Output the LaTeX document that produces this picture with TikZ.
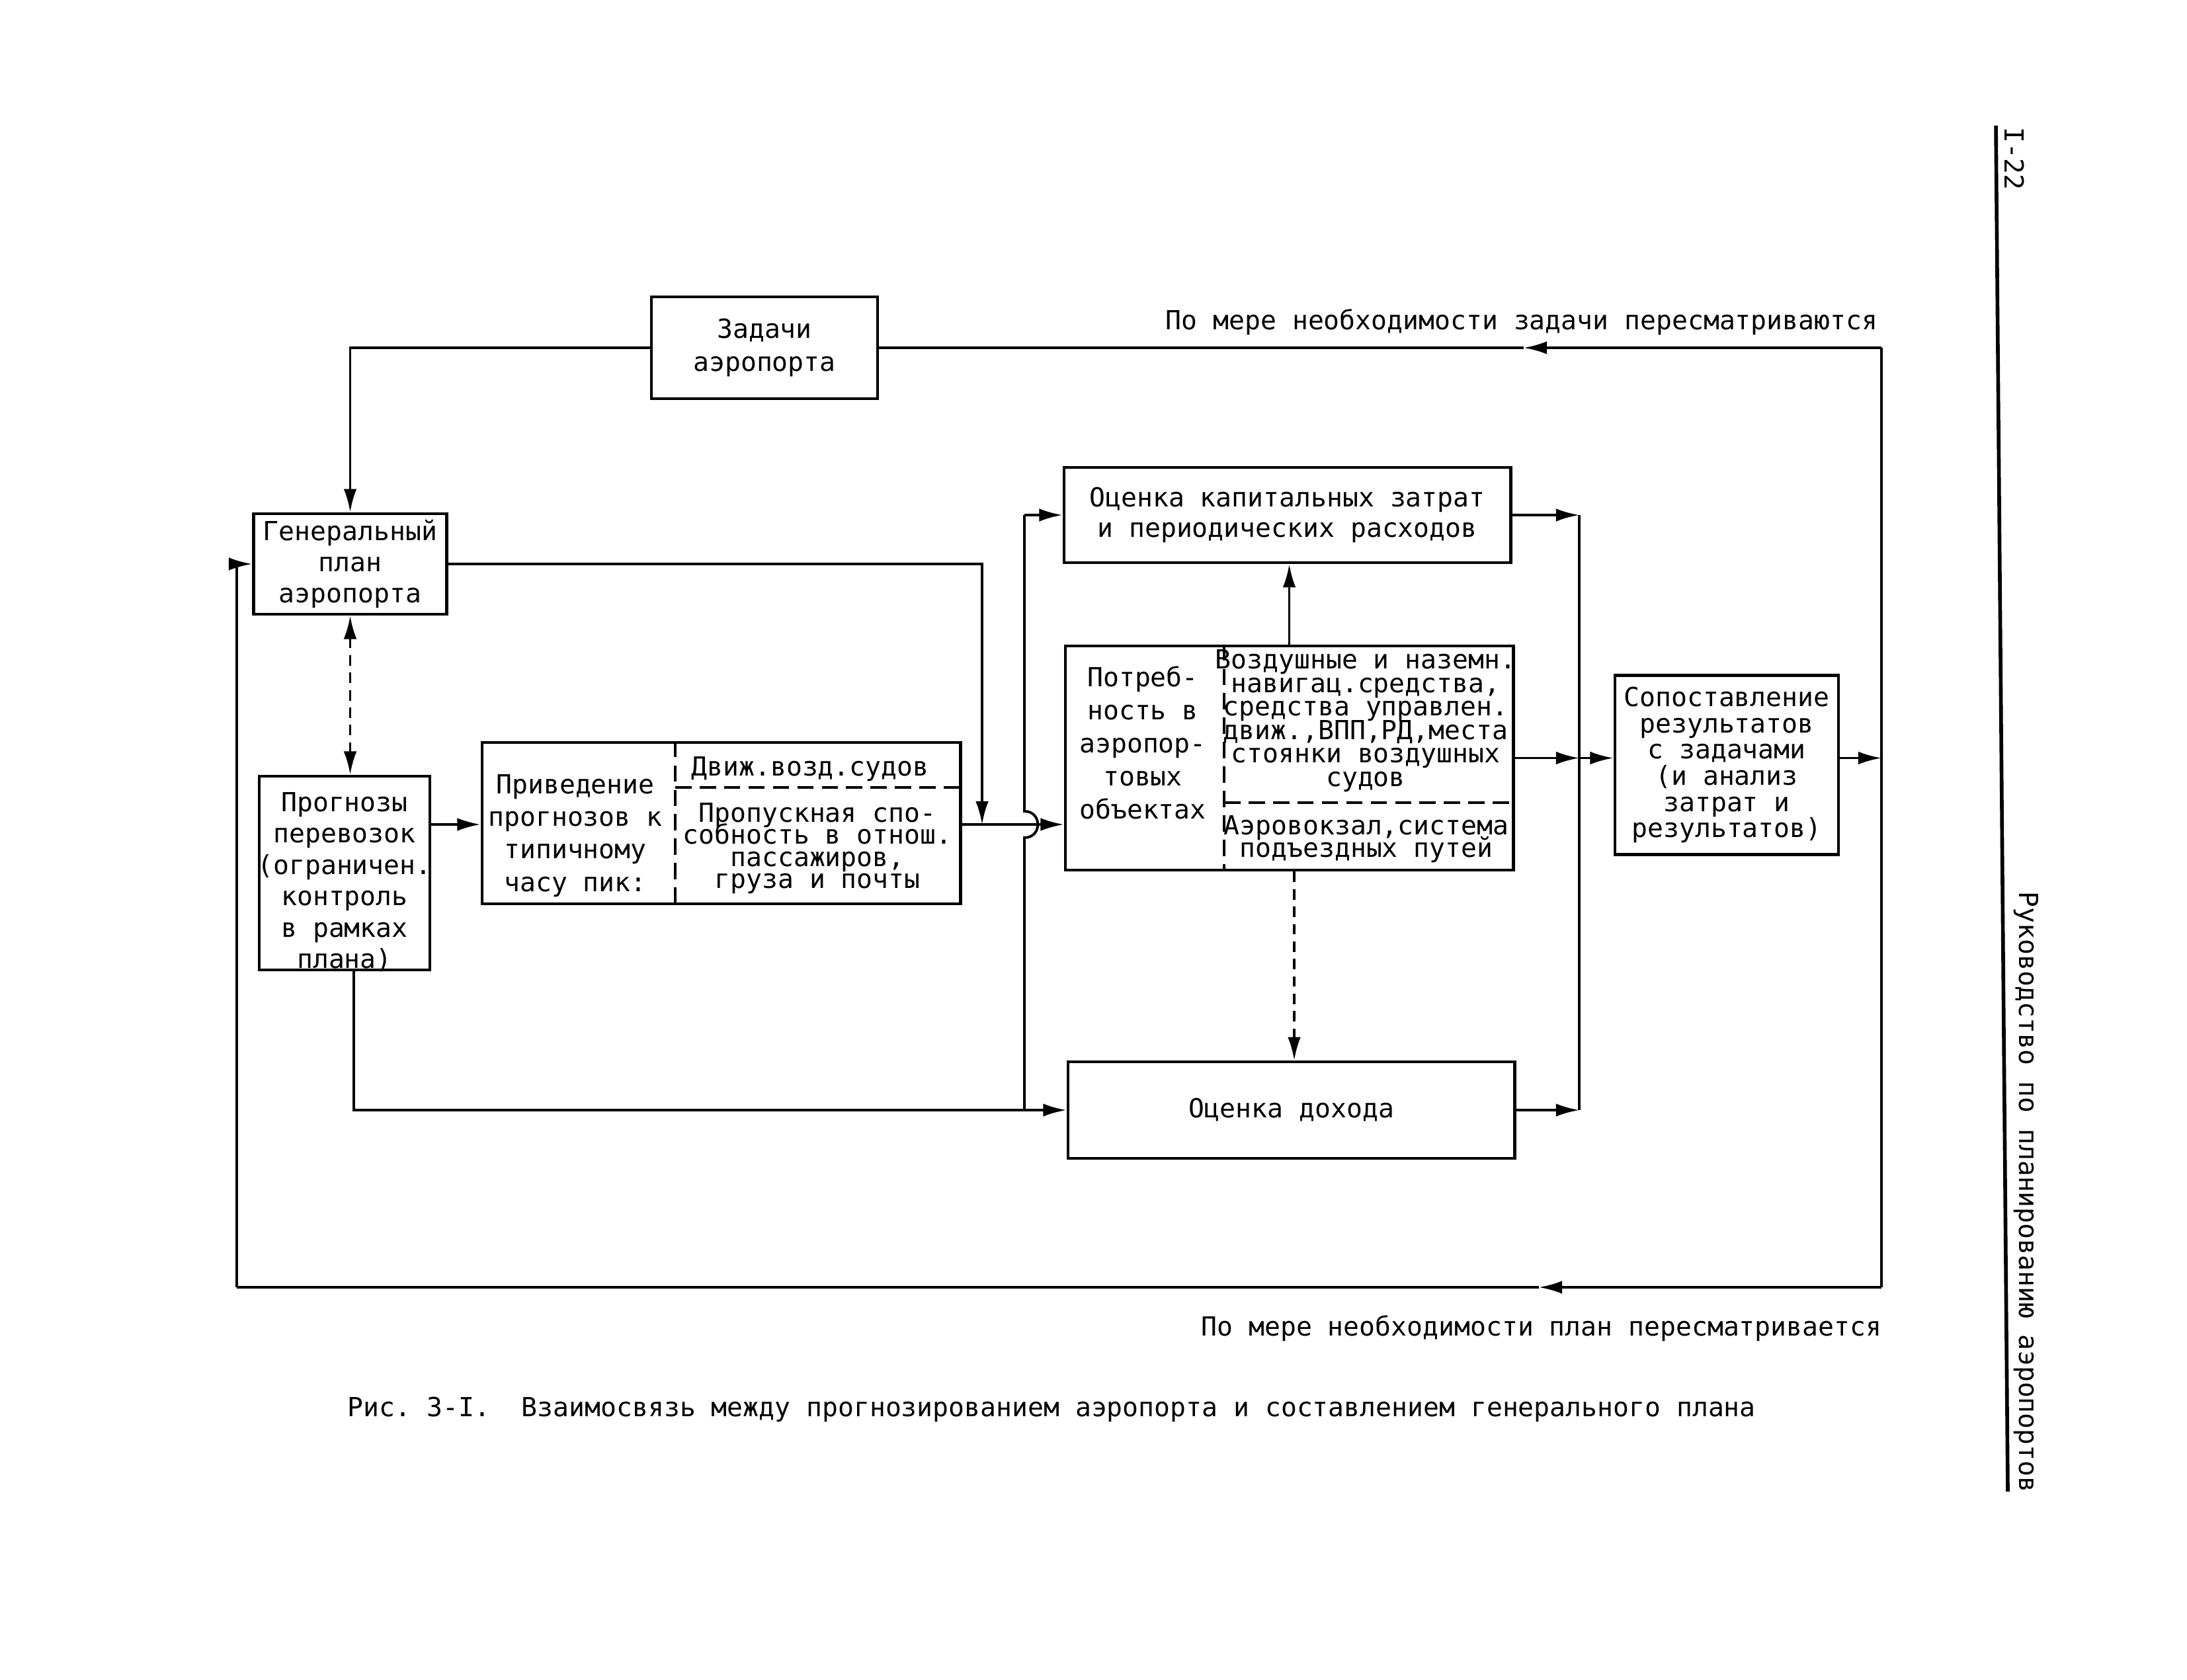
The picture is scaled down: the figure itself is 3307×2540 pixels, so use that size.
\documentclass[tikz,border=0pt]{standalone}
\usepackage{fontspec}
\setmainfont{DejaVu Sans Mono}
\newfontfamily\mono{DejaVu Sans Mono}
\usetikzlibrary{arrows.meta}
\newcommand\myfs[1]{\mono\fontsize{11.3}{#1}\selectfont\lineskiplimit=-20pt\relax}
\frenchspacing
\tikzset{
  box/.style={draw, line width=1.3pt, inner sep=0pt, align=center},
  conn/.style={line width=1.1pt},
  arr/.style={-{Latex[length=10pt,width=5.6pt]}},
  darr/.style={{Latex[length=10pt,width=5.6pt]}-{Latex[length=10pt,width=5.6pt]}},
  dashconn/.style={line width=1.1pt, dash pattern=on 4.5pt off 3pt},
  divider/.style={line width=0.9pt, dash pattern=on 7pt off 3.5pt},
  txt/.style={align=center, inner sep=0pt},
}
\begin{document}
\begin{tikzpicture}[x=0.01cm,y=-0.01cm]
\useasboundingbox (0,0) rectangle (3307,2540);
\fill[white] (0,0) rectangle (3307,2540);

% boxes
\node[box, minimum width=3.42cm, minimum height=1.54cm, font=\myfs{14.2}] (zad) at (1156,526) {Задачи\\аэропорта};
\node[box, minimum width=2.92cm, minimum height=1.52cm, font=\myfs{13.4}] (gen) at (529.5,853) {Генеральный\\план\\аэропорта};
\node[box, minimum width=2.58cm, minimum height=2.93cm] (prog) at (521,1320.5) {};
\node[txt, font=\myfs{13.5}] (progT) at (521,1334) {Прогнозы\\перевозок\\(ограничен.\\контроль\\в рамках\\плана)};
\node[box, minimum width=7.23cm, minimum height=2.44cm] (priv) at (1090.5,1245) {};
\node[txt, font=\myfs{14}] (privL) at (870,1264) {Приведение\\прогнозов к\\типичному\\часу пик:};
\node[txt, font=\myfs{10}] (privR1) at (1225,1163) {Движ.возд.судов};
\node[txt, font=\myfs{9.5}] (privR2) at (1236,1283) {Пропускная спо-\\собность в отнош.\\пассажиров,\\груза и почты};
\node[box, minimum width=6.75cm, minimum height=1.44cm, font=\myfs{13.1}] (kap) at (1946.5,779) {Оценка капитальных затрат\\и периодических расходов};
\node[box, minimum width=6.77cm, minimum height=3.39cm] (pot) at (1949.5,1146.5) {};
\node[txt, font=\myfs{14.2}] (potL) at (1728,1123) {Потреб-\\ность в\\аэропор-\\товых\\объектах};
\node[txt, font=\myfs{10.1}] (potR1) at (2065,1090) {Воздушные и наземн.\\навигац.средства,\\средства управлен.\\движ.,ВПП,РД,места\\стоянки воздушных\\судов};
\node[txt, font=\myfs{9.7}] (potR2) at (2066,1269) {Аэровокзал,система\\подъездных путей};
\node[box, minimum width=6.75cm, minimum height=1.46cm, font=\myfs{13}] (doh) at (1952.5,1679) {Оценка дохода};
\node[box, minimum width=3.38cm, minimum height=2.71cm, font=\myfs{11.3}] (sop) at (2611,1157) {Сопоставление\\результатов\\с задачами\\(и анализ\\затрат и\\результатов)};

% helper coordinates
\coordinate (yIn) at (0,1247);
\coordinate (xG) at (1485,0);
\coordinate (xP) at (535,0);
\coordinate (xD) at (1957,0);
\coordinate (bA) at (1549,0);
\coordinate (bB) at (2388,0);
\coordinate (fR) at (2845,0);
\coordinate (h1) at (1549,1227);
\coordinate (h2) at (1549,1267);
\coordinate (cTR) at (fR |- zad.east);
\coordinate (cBR) at (2845,1947);
\coordinate (cBL) at (358,1947);
\coordinate (aT) at (2304,526);
\coordinate (aB) at (2327,1947);
\coordinate (xPrivDiv) at (1021,0);
\coordinate (yPrivH) at (0,1191);
\coordinate (xPotDiv) at (1851,0);
\coordinate (yPotH) at (0,1214);

% dividers inside boxes
\draw[divider] (xPrivDiv |- priv.north) -- (xPrivDiv |- priv.south);
\draw[divider] (xPrivDiv |- yPrivH) -- (priv.east |- yPrivH);
\draw[divider] (xPotDiv |- pot.north) -- (xPotDiv |- pot.south);
\draw[divider] (xPotDiv |- yPotH) -- (pot.east |- yPotH);

% connectors
\draw[conn,arr] (zad.west) -| (gen.north);
\draw[conn] (cTR) -- (cBR);
\draw[conn,arr] (cTR) -- (aT);
\draw[conn] (aT) -- (zad.east);
\draw[conn,arr] (cBR) -- (aB);
\draw[conn] (aB) -- (cBL);
\draw[conn,arr] (cBL) |- (gen.west);

\draw[conn,arr] (gen.east) -| (xG |- yIn);
\draw[dashconn,darr] (gen.south) -- (gen.south |- prog.north);
\draw[conn,arr] (prog.east |- yIn) -- (priv.west |- yIn);
\draw[conn,arr] (priv.east |- yIn) -- (pot.west |- yIn);

\draw[conn] (bA |- doh.west) -- (h2) .. controls +(27,0) and +(27,0) .. (h1) -- (bA |- kap.west);
\draw[conn,arr] (bA |- kap.west) -- (kap.west);
\draw[conn,arr] (xP |- prog.south) |- (doh.west);

\draw[conn,arr] (pot.north) -- (pot.north |- kap.south);
\draw[dashconn,arr] (xD |- pot.south) -- (xD |- doh.north);

\draw[conn] (bB |- kap.east) -- (bB |- doh.east);
\draw[conn,arr] (kap.east) -- (bB |- kap.east);
\draw[conn,arr] (doh.east) -- (bB |- doh.east);
\draw[conn,arr] (pot.east) -- (bB |- pot.east);
\draw[conn,arr] (bB |- pot.east) -- (sop.west |- pot.east);
\draw[conn,arr] (sop.east |- pot.east) -- (fR |- pot.east);

% labels
\node[txt, font=\myfs{12}, anchor=east] (lblTop) at (2840,487) {По мере необходимости задачи пересматриваются};
\node[txt, font=\myfs{12}, anchor=east] (lblBot) at (2846,2009) {По мере необходимости план пересматривается};
\node[txt, font=\myfs{12}, anchor=west] (cap) at (525,2132) {Рис.~3-I.~~Взаимосвязь между прогнозированием аэропорта и составлением генерального плана};

% margin
\coordinate (mT) at (3018,190);
\coordinate (mB) at (3036,2256);
\draw[line width=1.6pt] (mT) -- (mB);
\node[txt, rotate=-90, font=\myfs{12}] (pg) at (3046,240) {I-22};
\node[txt, rotate=-90, font=\myfs{12}] (ttl) at (3064,1803) {Руководство по планированию аэропортов};
\end{tikzpicture}
\end{document}
